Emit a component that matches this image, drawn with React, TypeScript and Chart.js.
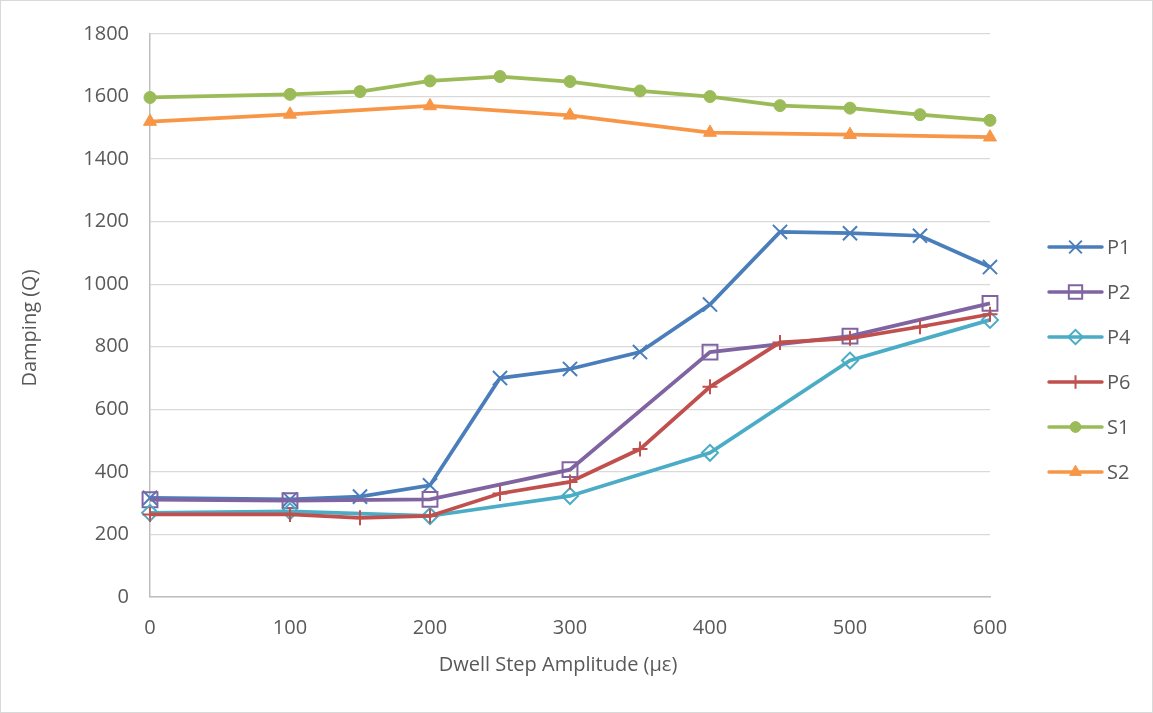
import React, { useEffect, useRef } from "react";
import { Chart, registerables } from "chart.js";
import { drawPoint } from "chart.js/helpers";

Chart.register(...registerables);

// Dwell step amplitudes (με)
const xAll = [0, 100, 150, 200, 250, 300, 350, 400, 450, 500, 550, 600];
const xMain = [0, 100, 200, 300, 400, 500, 600];

// Damping (Q) per specimen
const p1 = [317, 312, 321, 357, 700, 729, 783, 935, 1167, 1163, 1155, 1055];
const p2 = [311, 308, 312, 407, 783, 834, 939];
const p4 = [269, 274, 259, 323, 461, 756, 886];
const p6 = [264, 264, 253, 259, 331, 368, 473, 672, 814, 827, 864, 904];
const s1 = [1597, 1607, 1616, 1650, 1664, 1648, 1618, 1600, 1571, 1563, 1542, 1524];
const s2 = [1520, 1543, 1570, 1540, 1485, 1478, 1470];

const seriesNames = ["P1", "P2", "P4", "P6", "S1", "S2"];
const xTicks = [0, 100, 200, 300, 400, 500, 600];
const yTicks = [0, 200, 400, 600, 800, 1000, 1200, 1400, 1600, 1800];

const xTitle = "Dwell Step Amplitude (με)";
const yTitle = "Damping (Q)";

const FONT = "'Open Sans', sans-serif";
const FSIZE = 20;
const TEXT = "#595959";

type Style = { color: string; pointStyle: string; radius: number; fill: boolean; pw: number };
const styles: Style[] = [
  { color: "#4A7EBB", pointStyle: "crossRot", radius: 10, fill: false, pw: 2 },
  { color: "#8064A2", pointStyle: "rect", radius: 10.5, fill: false, pw: 2 },
  { color: "#4BACC6", pointStyle: "rectRot", radius: 8, fill: false, pw: 2 },
  { color: "#C0504D", pointStyle: "cross", radius: 7.5, fill: false, pw: 2 },
  { color: "#9BBB59", pointStyle: "circle", radius: 6, fill: true, pw: 1 },
  { color: "#F79646", pointStyle: "triangle", radius: 7.5, fill: true, pw: 1 },
];

const pairs = (xs: number[], ys: number[]) => xs.map((x, i) => ({ x, y: ys[i] }));
const seriesData = [pairs(xAll, p1), pairs(xMain, p2), pairs(xMain, p4), pairs(xAll, p6), pairs(xAll, s1), pairs(xMain, s2)];

// Legend with a line segment and marker per series, plus axis titles
const decorPlugin = {
  id: "decor",
  afterDraw(chart: any) {
    const ctx = chart.ctx as CanvasRenderingContext2D;
    ctx.save();
    ctx.fillStyle = TEXT;
    ctx.font = `${FSIZE}px ${FONT}`;
    ctx.textAlign = "center";
    ctx.textBaseline = "middle";
    ctx.fillText(xTitle, 557, 664);
    ctx.translate(29, 327);
    ctx.rotate(-Math.PI / 2);
    ctx.fillText(yTitle, 0, 0);
    ctx.restore();

    const x0 = 1048, x1 = 1101, ys = 246, gap = 45;
    chart.data.datasets.forEach((ds: any, i: number) => {
      const st = styles[i];
      const y = ys + i * gap;
      ctx.save();
      ctx.strokeStyle = st.color;
      ctx.lineWidth = 3.5;
      ctx.lineCap = "round";
      ctx.beginPath();
      ctx.moveTo(x0, y);
      ctx.lineTo(x1, y);
      ctx.stroke();
      ctx.lineCap = "butt";
      ctx.fillStyle = st.fill ? st.color : "rgba(0,0,0,0)";
      ctx.lineWidth = st.pw;
      drawPoint(ctx, { pointStyle: st.pointStyle as any, radius: st.radius * 0.9, rotation: 0, borderWidth: st.pw }, (x0 + x1) / 2, y);
      ctx.fillStyle = TEXT;
      ctx.font = `${FSIZE}px ${FONT}`;
      ctx.textAlign = "left";
      ctx.textBaseline = "middle";
      ctx.fillText(ds.label, 1106, y + 1);
      ctx.restore();
    });
  },
};

export default function App() {
  const ref = useRef<HTMLCanvasElement | null>(null);

  useEffect(() => {
    document.body.style.margin = "0";
    if (!ref.current) return;
    const chart = new Chart(ref.current, {
      type: "line",
      data: {
        datasets: seriesNames.map((name, i) => ({
          label: name,
          data: seriesData[i],
          borderColor: styles[i].color,
          backgroundColor: styles[i].color,
          borderWidth: 3.75,
          tension: 0,
          pointStyle: styles[i].pointStyle as any,
          pointRadius: styles[i].radius,
          pointBorderWidth: styles[i].pw,
          pointBorderColor: styles[i].color,
          pointBackgroundColor: styles[i].fill ? styles[i].color : "rgba(0,0,0,0)",
          order: 10 - i,
          clip: false as any,
        })),
      },
      options: {
        animation: false,
        responsive: false,
        layout: { padding: { left: 0, top: 33, right: 162, bottom: 0 } },
        plugins: { legend: { display: false }, tooltip: { enabled: false } },
        scales: {
          x: {
            type: "linear",
            min: 0,
            max: 600,
            afterBuildTicks: (scale: any) => {
              scale.ticks = xTicks.map((v) => ({ value: v }));
            },
            afterFit: (scale: any) => {
              scale.height = 115;
            },
            grid: { display: false, drawTicks: false },
            border: { display: true, color: "#BFBFBF", width: 1.5 },
            ticks: { color: TEXT, font: { family: FONT, size: FSIZE }, padding: 19, maxRotation: 0, callback: (v: any) => String(v) },
          },
          y: {
            type: "linear",
            min: 0,
            max: 1800,
            afterBuildTicks: (scale: any) => {
              scale.ticks = yTicks.map((v) => ({ value: v }));
            },
            afterFit: (scale: any) => {
              scale.width = 149;
            },
            grid: { color: "#D9D9D9", lineWidth: 1.3, drawTicks: false },
            border: { display: true, color: "#BFBFBF", width: 1.5 },
            ticks: { color: TEXT, font: { family: FONT, size: FSIZE }, padding: 21, callback: (v: any) => String(v) },
          },
        },
      },
      plugins: [decorPlugin],
    });
    return () => chart.destroy();
  }, []);

  return (
    <div style={{ width: 1153, height: 713, boxSizing: "border-box", border: "1px solid #D9D9D9", background: "#fff" }}>
      <canvas ref={ref} width={1151} height={711} style={{ display: "block", width: 1151, height: 711 }} />
    </div>
  );
}
